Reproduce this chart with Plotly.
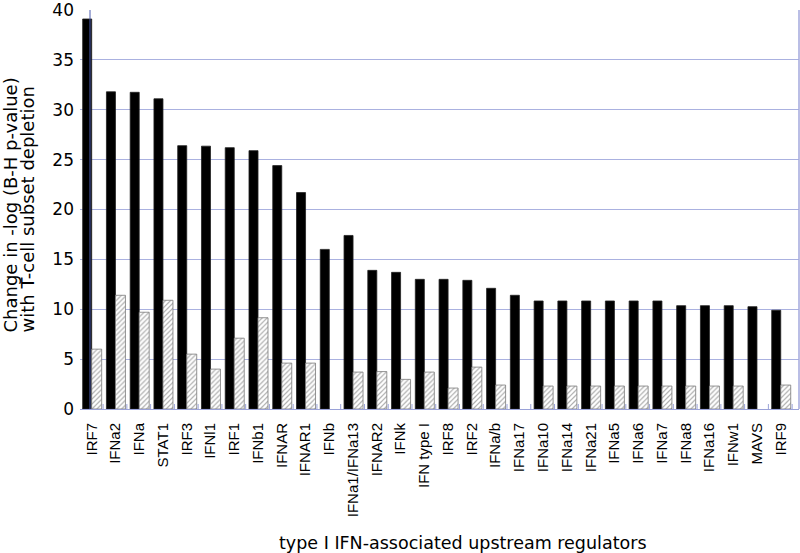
import plotly.graph_objects as go

categories = ["IRF7", "IFNa2", "IFNa", "STAT1", "IRF3", "IFNl1", "IRF1", "IFNb1", "IFNAR", "IFNAR1",
              "IFNb", "IFNa1/IFNa13", "IFNAR2", "IFNk", "IFN type I", "IRF8", "IRF2", "IFNa/b", "IFNa17", "IFNa10",
              "IFNa14", "IFNa21", "IFNa5", "IFNa6", "IFNa7", "IFNa8", "IFNa16", "IFNw1", "MAVS", "IRF9"]
solid_values = [39.1, 31.8, 31.75, 31.1, 26.4, 26.35, 26.2, 25.9, 24.4, 21.7,
                16.0, 17.4, 13.9, 13.7, 13.0, 13.0, 12.9, 12.1, 11.4, 10.83,
                10.83, 10.83, 10.83, 10.83, 10.83, 10.36, 10.36, 10.36, 10.26, 9.9]
hatched_values = [6.0, 11.4, 9.7, 10.9, 5.5, 4.0, 7.1, 9.15, 4.6, 4.6,
                  None, 3.7, 3.75, 2.97, 3.7, 2.1, 4.2, 2.4, None, 2.3,
                  2.3, 2.3, 2.3, 2.3, 2.3, 2.3, 2.3, 2.3, None, 2.4]
y_ticks = [0, 5, 10, 15, 20, 25, 30, 35, 40]

xpos = list(range(len(categories)))

fig = go.Figure()
fig.add_trace(go.Bar(
    x=xpos, y=solid_values, width=0.38, offset=-0.38,
    marker=dict(color="black", line=dict(color="#222222", width=0.8)),
    showlegend=False, hoverinfo="x+y"))
fig.add_trace(go.Bar(
    x=xpos, y=hatched_values, width=0.42, offset=0,
    marker=dict(color="white", line=dict(color="#7a7a7a", width=0.8),
                pattern=dict(shape="/", fgcolor="#5e5e5e", bgcolor="white", size=3.5, solidity=0.35)),
    showlegend=False, hoverinfo="x+y"))

a = -0.4924
b = a + 719 / 23.76

fig.update_layout(
    width=800, height=553,
    margin=dict(l=80, r=1, t=10, b=144),
    paper_bgcolor="white", plot_bgcolor="white",
    barmode="overlay",
    xaxis=dict(
        range=[a, b], tickmode="array", tickvals=xpos, ticktext=categories,
        tickangle=-90, tickfont=dict(family="Liberation Sans, Arial", size=15, color="black"),
        showgrid=False, zeroline=False, automargin=False,
        showline=True, linecolor="#9aa2d8", linewidth=1,
        ticks="", ticklabelstandoff=7, ticklabeloverflow="allow",
    ),
    yaxis=dict(
        range=[0, 40.001], tickmode="array", tickvals=y_ticks,
        tickfont=dict(family="DejaVu Sans", size=17, color="black"),
        showgrid=True, gridcolor="#aab1e0", gridwidth=1, automargin=False,
        zeroline=False, showline=False, ticks="", ticklabelstandoff=5, ticklabeloverflow="allow",
    ),
    shapes=[
        dict(type="line", xref="x", yref="paper", x0=a + 10 / 23.76, x1=a + 10 / 23.76, y0=0, y1=1,
             line=dict(color="#4c5cb0", width=1)),
        dict(type="line", xref="paper", yref="paper", x0=1, x1=1, y0=0, y1=1,
             line=dict(color="#a3a9dc", width=1.5)),
    ] + [
        dict(type="line", xref="x", yref="y", x0=i - 0.5 - 0.02, x1=i - 0.5 - 0.02, y0=0, y1=0.5,
             line=dict(color="#9aa2d8", width=1))
        for i in range(1, len(categories) + 1)
    ],
    annotations=[
        dict(text="Change in -log (B-H p-value)", textangle=-90, xref="paper", yref="paper",
             x=(9.5 - 80) / 719, y=(409 - 205) / 399, xanchor="center", yanchor="middle",
             showarrow=False, font=dict(family="DejaVu Sans", size=18, color="black")),
        dict(text="with T-cell subset depletion", textangle=-90, xref="paper", yref="paper",
             x=(26.5 - 80) / 719, y=(409 - 210) / 399, xanchor="center", yanchor="middle",
             showarrow=False, font=dict(family="DejaVu Sans", size=18, color="black")),
        dict(text="type I IFN-associated upstream regulators", xref="paper", yref="paper",
             x=(462.5 - 80) / 719, y=-(531 - 409) / 399, xanchor="center", yanchor="top",
             showarrow=False, font=dict(family="DejaVu Sans", size=17.5, color="black")),
    ],
)

fig.write_html("out.html", config={"displayModeBar": False},
               post_script="document.body.style.margin='0';")
